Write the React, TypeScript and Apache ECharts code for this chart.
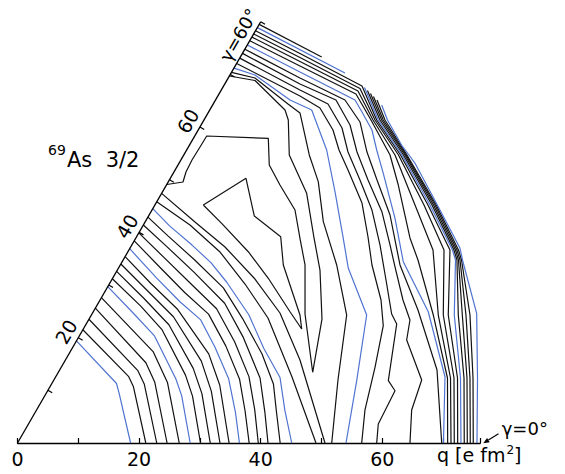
import { useEffect, useRef } from 'react';
import * as echarts from 'echarts';

// ---------- layout ----------
const CHART_W = 565;
const CHART_H = 474;
const ORIGIN_X = 17.5;
const ORIGIN_Y = 443;
const PX_PER_Q = 6.08;
const X_MAX = 76.1;
const Y_MAX = 72;
const R_MAX = 80;
const FONT = 'DejaVu Sans';
const BLACK = '#111111';
const BLUE = '#4f73d0';
const LINE_W = 1.2;

// ---------- axes ----------
const xTickLabelValues = [0, 20, 40, 60];
const gammaAxisAngle = 60;
const gammaAxisEnd = 81.7;
const gammaTickValues = [10, 20, 30, 40, 50, 60, 70, 80];
const gammaLabelValues = [20, 40, 60];
const gammaLabels = ['20', '40', '60'];

// ---------- contours around the origin, polar [q, gamma(deg)] ----------
const cL01 = [[19.4, 60], [19.0, 31], [18.6, 26], [18.6, 0]];
const cL02 = [[21.5, 60], [21.3, 31], [21.2, 26], [21.1, 0]];
const cL03 = [[23.5, 60], [23.1, 31], [23.0, 25], [22.9, 0]];
const cL04 = [[25.6, 60], [24.9, 32], [24.7, 24], [24.6, 0]];
const cL05 = [[27.6, 60], [26.9, 34], [26.6, 22], [26.6, 0]];
const cL06 = [[29.7, 60], [28.6, 48], [28.6, 38], [28.1, 22], [28.1, 16], [28.4, 0]];
const cL07 = [[31.2, 60], [30.3, 48], [30.2, 38], [29.8, 22], [29.8, 15], [30.1, 0]];
const cL08 = [[32.6, 60], [31.6, 49], [31.6, 38], [31.4, 23], [31.4, 15], [31.7, 0]];
const cL09 = [[34.0, 60], [32.9, 49], [33.0, 39], [33.1, 24], [33.0, 15], [33.3, 0]];
const cL10 = [[35.4, 60], [34.2, 50], [34.3, 40], [34.7, 25], [34.6, 16], [34.8, 0]];
const cL11 = [[36.9, 60], [35.5, 50], [35.4, 41], [36.3, 34], [36.1, 26], [36.3, 17], [36.2, 8], [36.5, 0]];
const cL12 = [[38.4, 60], [37.2, 51], [37.0, 42], [37.9, 34], [37.8, 25], [38.0, 16], [37.8, 8], [38.1, 0]];
const cL13 = [[39.9, 60], [38.9, 52], [38.7, 43], [39.5, 34], [39.4, 25], [39.6, 16], [39.4, 8], [39.6, 0]];
const cL14 = [[41.4, 60], [40.6, 53], [40.4, 44], [41.1, 34], [41.0, 25], [41.3, 15], [41.0, 7], [41.2, 0]];
const cL15 = [[42.9, 60], [42.1, 54], [41.9, 46], [42.4, 37], [42.3, 29], [42.8, 20], [43.2, 13], [42.9, 7], [43.2, 0]];
const cL16 = [[44.5, 60], [43.6, 55], [43.4, 48.6], [43.5, 43], [43.4, 37.6], [43.5, 29], [43.4, 21], [44.5, 14], [44.3, 7], [45.1, 0]];

// ---------- other contours, cartesian [qx, qy] ----------
const cL17 = [[22.90, 39.66], [28.37, 35.85], [33.31, 31.41], [37.42, 26.15], [41.20, 20.56], [45.15, 10.86], [49.09, 0]];
const cL18 = [[23.70, 41.05], [29.19, 36.35], [34.13, 32.24], [39.06, 26.97], [43.17, 21.38], [46.46, 13.65], [50.57, 0]];
const cLoop = [[30.56, 39.14], [37.58, 43.53], [38.95, 37.33], [43.29, 33.93], [43.72, 29.28], [46.46, 21.05], [46.74, 18.75], [44.82, 21.59], [41.25, 27.09], [37.96, 31.46], [33.58, 36.13], [30.56, 39.14]];
const cTongue = [[24.55, 42.52], [27.22, 42.93], [27.71, 44.57], [28.70, 46.55], [30.02, 48.68], [31.12, 50.49], [41.25, 50.11], [41.41, 45.72], [43.17, 42.43], [45.64, 38.32], [46.46, 33.67], [47.29, 29.28], [47.29, 21.22], [48.55, 11.63], [50.08, 20.39], [49.75, 28.45], [48.77, 33.72], [47.56, 41.07], [44.70, 47.37], [44.54, 53.12], [44.00, 54.77], [39.06, 59.62], [34.85, 60.36]];
const cR17 = [[35.20, 60.97], [39.06, 60.03], [44.49, 55.76], [46.46, 54.28], [47.99, 47.37], [49.47, 42.98], [50.30, 36.40], [52.50, 29.28], [54.14, 21.05], [52.71, 10.36], [51.68, 0]];
const cR16 = [[35.61, 61.66], [39.06, 60.53], [44.82, 56.41], [48.39, 54.77], [50.85, 48.19], [52.22, 41.33], [53.58, 33.67], [54.41, 28.73], [57.43, 21.05], [55.79, 10.25], [54.03, 0]];
const cR15 = [[36.05, 62.43], [46.46, 57.07], [49.75, 55.10], [51.89, 51.48], [52.88, 48.19], [54.36, 44.90], [56.66, 39.47], [57.65, 33.88], [58.30, 29.28], [59.79, 23.52], [60.16, 19.29], [58.80, 12.45], [57.15, 5.43], [56.61, 0]];
const cR14 = [[36.55, 63.30], [46.46, 58.06], [51.07, 55.76], [53.37, 51.81], [54.36, 47.86], [56.33, 43.26], [58.30, 38.32], [59.62, 32.57], [60.61, 26.81], [61.54, 21.22], [62.37, 19.57], [60.99, 10.25], [62.09, 8.60], [59.34, 3.12], [59.08, 0]];
const cR13 = [[37.01, 64.08], [46.46, 59.04], [52.38, 56.41], [54.69, 52.30], [55.84, 47.86], [57.65, 43.26], [59.95, 37.99], [61.27, 32.57], [62.09, 28.95], [63.40, 23.52], [64.55, 20.23], [64.01, 16.94], [66.48, 10.36], [64.83, 5.43], [64.55, 0]];
const cR12 = [[37.40, 64.77], [46.46, 60.03], [53.86, 56.41], [56.33, 52.80], [57.48, 47.86], [59.13, 43.26], [61.27, 37.50], [62.25, 32.57], [62.91, 29.28], [65.87, 21.87], [69.00, 12.01], [69.77, 0]];
const cR11 = [[37.80, 65.46], [46.46, 61.02], [55.51, 56.41], [56.66, 54.44], [58.30, 51.48], [59.08, 48.19], [60.16, 44.36], [62.09, 36.96], [63.45, 29.82], [67.56, 21.59], [70.31, 10.90], [70.06, 0]];
const cR10 = [[38.21, 66.15], [46.46, 62.01], [55.67, 57.40], [58.14, 53.12], [61.27, 47.37], [62.63, 42.43], [64.55, 33.72], [65.87, 30.10], [68.39, 21.05], [70.72, 10.69], [70.75, 0]];
const cR09 = [[38.55, 66.76], [46.46, 62.75], [56.00, 57.89], [58.47, 53.12], [62.09, 47.37], [63.73, 43.26], [65.38, 39.14], [68.34, 31.74], [69.21, 21.05], [71.22, 10.69], [71.30, 0]];
const cR08 = [[38.85, 67.28], [46.46, 63.40], [56.33, 58.30], [58.80, 53.12], [62.66, 47.37], [66.86, 39.14], [70.15, 31.74], [70.03, 21.05], [71.79, 10.69], [71.84, 0]];
const cR07 = [[39.14, 67.81], [46.46, 64.06], [56.66, 58.72], [59.08, 53.12], [62.99, 47.37], [67.51, 39.14], [71.13, 31.74], [70.85, 21.05], [72.37, 10.69], [72.40, 0]];
const cR06Top = [[39.46, 68.32], [53.86, 60.85]];
const cR05Top = [[39.75, 68.85], [50.03, 63.49]];
const cR06 = [[57.07, 58.47], [59.34, 53.12], [63.24, 47.37], [67.84, 39.14], [71.54, 31.74], [72.04, 30.10], [71.84, 21.05], [72.86, 10.69], [72.94, 0]];
const cR05 = [[57.56, 57.98], [59.62, 53.12], [63.49, 47.37], [68.17, 39.14], [71.79, 31.74], [72.28, 30.10], [72.50, 21.05], [73.44, 10.69], [73.48, 0]];
const cR04 = [[58.06, 57.48], [59.90, 53.12], [63.73, 47.37], [68.42, 39.14], [72.04, 31.74], [72.53, 30.10], [73.16, 21.05], [73.93, 10.69], [73.98, 0]];
const cR03 = [[58.55, 56.99], [60.16, 53.12], [63.90, 47.37], [68.67, 39.14], [72.28, 31.74], [72.78, 30.10], [73.76, 21.05], [74.42, 10.69], [74.47, 0]];
const cR02 = [[59.13, 56.41], [60.44, 53.12], [64.06, 47.37], [68.88, 39.14], [72.53, 31.74], [73.03, 30.10], [74.42, 21.05], [74.92, 10.69], [74.96, 0]];
const cR01 = [[59.90, 55.59], [60.85, 53.12], [63.16, 49.01], [64.39, 47.37], [65.38, 46.00], [69.49, 38.32], [72.78, 32.02], [73.19, 30.10], [75.52, 21.33], [75.66, 10.69], [75.57, 0]];

const polarContours = [
  { d: cL01, c: BLUE }, { d: cL02, c: BLACK }, { d: cL03, c: BLACK }, { d: cL04, c: BLACK }, { d: cL05, c: BLACK },
  { d: cL06, c: BLUE }, { d: cL07, c: BLACK }, { d: cL08, c: BLACK }, { d: cL09, c: BLACK }, { d: cL10, c: BLACK },
  { d: cL11, c: BLUE }, { d: cL12, c: BLACK }, { d: cL13, c: BLACK }, { d: cL14, c: BLACK }, { d: cL15, c: BLACK },
  { d: cL16, c: BLUE },
];
const cartContours = [
  { d: cL17, c: BLACK }, { d: cL18, c: BLACK }, { d: cLoop, c: BLACK }, { d: cTongue, c: BLACK },
  { d: cR17, c: BLACK }, { d: cR16, c: BLUE }, { d: cR15, c: BLACK }, { d: cR14, c: BLACK }, { d: cR13, c: BLACK },
  { d: cR12, c: BLACK }, { d: cR11, c: BLUE }, { d: cR10, c: BLACK }, { d: cR09, c: BLACK }, { d: cR08, c: BLACK },
  { d: cR07, c: BLACK }, { d: cR06Top, c: BLUE }, { d: cR05Top, c: BLACK }, { d: cR06, c: BLUE }, { d: cR05, c: BLACK },
  { d: cR04, c: BLACK }, { d: cR03, c: BLACK }, { d: cR02, c: BLACK }, { d: cR01, c: BLUE },
];

const TICK_LEN = 5;
const COS30 = Math.cos(Math.PI / 6);
const SIN30 = Math.sin(Math.PI / 6);

export default function App() {
  const ref = useRef<HTMLDivElement>(null);
  useEffect(() => {
    if (!ref.current) return;
    const chart = echarts.init(ref.current, null, { renderer: 'svg' });
    const lineBase = {
      type: 'line', symbol: 'none', showSymbol: false, silent: true, clip: false, animation: false,
    };
    const series: any[] = [];
    polarContours.forEach((p) => {
      series.push({ ...lineBase, coordinateSystem: 'polar', polarIndex: 0, data: p.d, lineStyle: { color: p.c, width: LINE_W } });
    });
    cartContours.forEach((p) => {
      series.push({ ...lineBase, xAxisIndex: 0, yAxisIndex: 0, data: p.d, lineStyle: { color: p.c, width: LINE_W } });
    });
    // gamma = 60 deg axis line
    series.push({
      ...lineBase, coordinateSystem: 'polar', polarIndex: 0,
      data: [[0, gammaAxisAngle], [gammaAxisEnd, gammaAxisAngle]],
      lineStyle: { color: '#000', width: 1.3 },
    });
    // ticks on the 60 deg axis
    series.push({
      type: 'custom', coordinateSystem: 'polar', polarIndex: 0, silent: true, animation: false,
      data: gammaTickValues.map((v) => [v, gammaAxisAngle]),
      renderItem: (_params: any, api: any) => {
        const p = api.coord([api.value(0), api.value(1)]);
        return {
          type: 'line',
          shape: { x1: p[0], y1: p[1], x2: p[0] + TICK_LEN * COS30, y2: p[1] + TICK_LEN * SIN30 },
          style: { stroke: '#000', lineWidth: 1.2 },
        };
      },
    });
    // tick labels on the 60 deg axis
    series.push({
      type: 'custom', coordinateSystem: 'polar', polarIndex: 0, silent: true, animation: false,
      data: gammaLabelValues.map((v, i) => [v, gammaAxisAngle, i]),
      renderItem: (_params: any, api: any) => {
        const p = api.coord([api.value(0), api.value(1)]);
        const i = api.value(2);
        return {
          type: 'text',
          x: p[0] - 12,
          y: p[1] - 6,
          rotation: Math.PI / 3,
          style: {
            text: gammaLabels[i], fontSize: 19, fontFamily: FONT, fill: '#000',
            align: 'center', verticalAlign: 'middle',
          },
        };
      },
    });

    chart.setOption({
      animation: false,
      backgroundColor: '#fff',
      textStyle: { fontFamily: FONT },
      grid: {
        left: ORIGIN_X,
        top: ORIGIN_Y - Y_MAX * PX_PER_Q,
        width: X_MAX * PX_PER_Q,
        height: Y_MAX * PX_PER_Q,
        containLabel: false,
      },
      xAxis: {
        type: 'value', min: 0, max: X_MAX, interval: 10,
        axisLine: { show: true, lineStyle: { color: '#000', width: 1.3 } },
        axisTick: { show: true, inside: true, length: 5, lineStyle: { color: '#000', width: 1.2 } },
        axisLabel: {
          show: true, margin: 6, fontSize: 19, fontFamily: FONT, color: '#000',
          formatter: (v: number) => (xTickLabelValues.indexOf(v) >= 0 ? String(v) : ''),
        },
        splitLine: { show: false },
      },
      yAxis: { type: 'value', min: 0, max: Y_MAX, show: false },
      polar: { center: [ORIGIN_X, ORIGIN_Y], radius: R_MAX * PX_PER_Q },
      angleAxis: { type: 'value', min: 0, max: 360, startAngle: 0, clockwise: false, show: false },
      radiusAxis: { type: 'value', min: 0, max: R_MAX, show: false },
      graphic: [
        { type: 'text', x: 238.8, y: 35, rotation: Math.PI / 3, style: { text: 'γ=60°', fontSize: 18, fontFamily: FONT, fill: '#000', align: 'center', verticalAlign: 'middle' } },
        { type: 'text', x: 48, y: 150, style: { text: '69', fontSize: 14, fontFamily: FONT, fill: '#000', align: 'left', verticalAlign: 'middle' } },
        { type: 'text', x: 67, y: 160, style: { text: 'As  3/2', fontSize: 21, fontFamily: FONT, fill: '#000', align: 'left', verticalAlign: 'middle' } },
        { type: 'text', x: 501.7, y: 428, style: { text: 'γ=0°', fontSize: 18, fontFamily: FONT, fill: '#000', align: 'left', verticalAlign: 'middle' } },
        { type: 'text', x: 437, y: 454.6, style: { text: 'q [e fm', fontSize: 19, fontFamily: FONT, fill: '#000', align: 'left', verticalAlign: 'middle' } },
        { type: 'text', x: 506.5, y: 450, style: { text: '2', fontSize: 12, fontFamily: FONT, fill: '#000', align: 'left', verticalAlign: 'middle' } },
        { type: 'text', x: 514, y: 454.6, style: { text: ']', fontSize: 19, fontFamily: FONT, fill: '#000', align: 'left', verticalAlign: 'middle' } },
        { type: 'line', shape: { x1: 498.5, y1: 433.8, x2: 488.4, y2: 440.1 }, style: { stroke: '#000', lineWidth: 1.2 } },
        { type: 'polygon', shape: { points: [[483.3, 443.3], [489.7, 442.2], [487.1, 438]] }, style: { fill: '#000' } },
      ],
      series,
    });
    return () => chart.dispose();
  }, []);
  return (
    <div
      ref={ref}
      style={{ position: 'absolute', left: 0, top: 0, width: CHART_W, height: CHART_H }}
    />
  );
}
